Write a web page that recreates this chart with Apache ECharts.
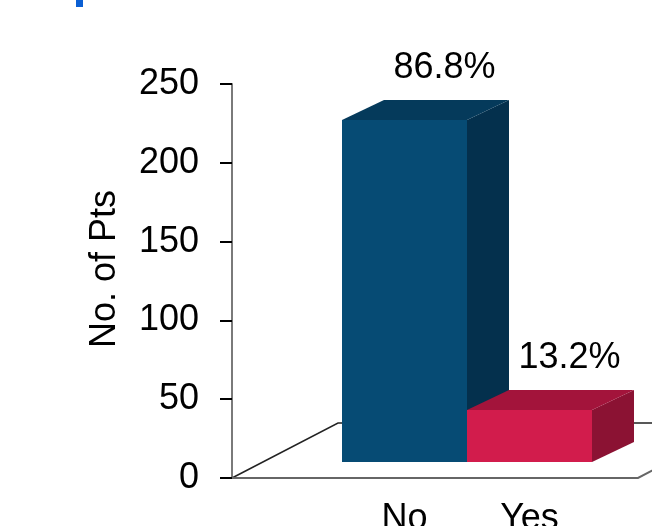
<!DOCTYPE html>
<html>
<head>
<meta charset="utf-8">
<script src="https://cdn.jsdelivr.net/npm/echarts@6/dist/echarts.min.js"></script>
<style>
  html, body { margin: 0; padding: 0; background: #fff; }
  #main { width: 652px; height: 526px; }
</style>
</head>
<body>
<div id="main"></div>
<script>
// data (total 250 pts)
var categories = ['No', 'Yes'];
var patients = [217, 33];
var shareLabels = ['86.8%', '13.2%'];
var yMin = 0, yMax = 250, yStep = 50;

var faceColors = [
    { front: '#064b74', top: '#053a5b', side: '#04304d' },
    { front: '#d21c4c', top: '#a3143b', side: '#8b1233' }
];

var FONT = 'Liberation Sans, Arial, sans-serif';
var FS = 36;
var DEPTH_X = 42, DEPTH_Y = -20;   // box depth
var LIFT = 16;                     // boxes stand a bit back on the floor

// floor parallelogram drawn from the grid rectangle
function renderFloor(params, api) {
    var cs = params.coordSys;
    var x0 = cs.x, x1 = cs.x + cs.width, y = cs.y + cs.height;
    var fx = 106, fy = -55;
    return {
        type: 'group',
        children: [
            { type: 'polyline', shape: { points: [[x0, y], [x0 + fx, y + fy], [x1 + fx, y + fy]] },
              style: { stroke: '#222', lineWidth: 1.5, fill: null } },
            { type: 'polyline', shape: { points: [[x0, y], [x1, y], [x1 + fx, y + fy]] },
              style: { stroke: '#666', lineWidth: 2, fill: null } }
        ]
    };
}

function renderBox(params, api) {
    var i = api.value(0);
    var top = api.coord([i, api.value(1)]);
    var base = api.coord([i, 0]);
    var bw = api.size([1, 0])[0];
    var x0 = base[0] - bw / 2, x1 = base[0] + bw / 2;
    var yb = base[1] - LIFT, yt = top[1] - LIFT;
    var c = faceColors[params.dataIndex];
    return {
        type: 'group',
        children: [
            { type: 'polygon', shape: { points: [[x1, yt], [x1 + DEPTH_X, yt + DEPTH_Y], [x1 + DEPTH_X, yb + DEPTH_Y], [x1, yb]] },
              style: { fill: c.side } },
            { type: 'polygon', shape: { points: [[x0, yt], [x0 + DEPTH_X, yt + DEPTH_Y], [x1 + DEPTH_X, yt + DEPTH_Y], [x1, yt]] },
              style: { fill: c.top } },
            { type: 'rect', shape: { x: x0, y: yt, width: bw, height: yb - yt },
              style: { fill: c.front } },
            { type: 'text', style: { text: shareLabels[i], x: base[0] + DEPTH_X - 2, y: yt + DEPTH_Y - 14,
              align: 'center', verticalAlign: 'bottom', fontSize: FS, fontFamily: FONT, fill: '#000' } }
        ]
    };
}

var myChart = echarts.init(document.getElementById('main'));

var option = {
    animation: false,
    backgroundColor: '#fff',
    graphic: [
        // bit of the cut-off title
        { type: 'rect', left: 76, top: 0, shape: { width: 7, height: 7 }, style: { fill: '#0b5fd3' } }
    ],
    grid: [
        { left: 232, right: 14, top: 84, bottom: 48, outerBoundsMode: 'none' },
        { left: 342, right: 60, top: 84, bottom: 48, outerBoundsMode: 'none' }
    ],
    xAxis: [
        { gridIndex: 0, type: 'value', min: 0, max: 1, show: false },
        { gridIndex: 1, type: 'category', data: categories,
          axisLine: { show: false }, axisTick: { show: false },
          axisLabel: { color: '#000', fontSize: FS, fontFamily: FONT, margin: 23 } }
    ],
    yAxis: [
        { gridIndex: 0, type: 'value', min: yMin, max: yMax, interval: yStep,
          name: 'No. of Pts', nameLocation: 'middle', nameGap: 109,
          nameTextStyle: { color: '#000', fontSize: FS, fontFamily: FONT, padding: [0, 0, 0, 24] },
          axisLine: { show: true, lineStyle: { color: '#7a7a7a', width: 2 } },
          axisTick: { show: true, length: 12, lineStyle: { color: '#000', width: 2 } },
          axisLabel: { color: '#000', fontSize: FS, fontFamily: FONT, margin: 33 },
          splitLine: { show: false } },
        { gridIndex: 1, type: 'value', min: yMin, max: yMax, show: false }
    ],
    series: [
        { type: 'custom', xAxisIndex: 0, yAxisIndex: 0, clip: false, silent: true,
          renderItem: renderFloor, data: [[0, 0]] },
        { type: 'custom', xAxisIndex: 1, yAxisIndex: 1, clip: false,
          renderItem: renderBox, encode: { x: 0, y: 1 },
          data: patients.map(function (v, i) { return [i, v]; }) }
    ]
};

myChart.setOption(option);
</script>
</body>
</html>
